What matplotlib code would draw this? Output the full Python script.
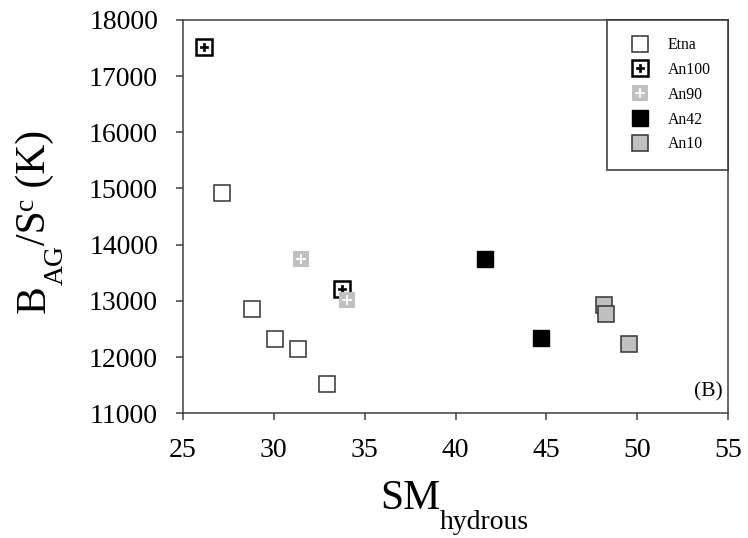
import matplotlib
matplotlib.use("Agg")
import matplotlib.pyplot as plt

plt.rcParams['font.family'] = ['Liberation Serif', 'DejaVu Serif']

# data
etna_x = [27.15, 28.81, 30.06, 31.33, 32.94]
etna_y = [14920, 12850, 12325, 12140, 11517]
an100_x = [26.14, 33.73]
an100_y = [17512, 13205]
an90_x = [31.51, 34.04]
an90_y = [13740, 13014]
an42_x = [41.60, 44.69]
an42_y = [13745, 12337]
an10_x = [48.17, 48.26, 49.56]
an10_y = [12930, 12770, 12230]

W, H = 748, 538
fig = plt.figure(figsize=(W / 100, H / 100), dpi=100)
ax = fig.add_axes([0.2447, 0.232, 0.7286, 0.731])

ms = 11.5
ax.plot(etna_x, etna_y, 's', ms=ms, mfc='white', mec='#333333', mew=1.1, label='Etna')
an100_box, = ax.plot(an100_x, an100_y, 's', ms=ms, mfc='white', mec='black', mew=1.8)
an100_plus, = ax.plot(an100_x, an100_y, 'P', ms=6, mfc='black', mec='black', mew=0.5)
an90_box, = ax.plot(an90_x, an90_y, 's', ms=ms, mfc='#c0c0c0', mec='#c0c0c0', mew=0)
an90_plus, = ax.plot(an90_x, an90_y, '+', ms=7, mec='white', mew=1.3)
ax.plot(an42_x, an42_y, 's', ms=ms, mfc='black', mec='black', mew=1, label='An42')
ax.plot(an10_x, an10_y, 's', ms=ms, mfc='#c0c0c0', mec='#333333', mew=1.1, label='An10')

h, l = ax.get_legend_handles_labels()
handles = [h[0], (an100_box, an100_plus), (an90_box, an90_plus), h[1], h[2]]
labels = ['Etna', 'An100', 'An90', 'An42', 'An10']
leg = ax.legend(handles, labels, loc='upper right', bbox_to_anchor=(1.0, 1.0),
                fontsize=11.3, frameon=True, fancybox=False, edgecolor='#333333',
                borderpad=1.1, labelspacing=0.56, handletextpad=0.75,
                handlelength=2.0, borderaxespad=0)
leg.get_frame().set_linewidth(1.4)

ax.set_xlim(25, 55)
ax.set_ylim(11000, 18000)
ax.set_xticks(range(25, 56, 5))
ax.set_yticks(range(11000, 18001, 1000))
for s in ax.spines.values():
    s.set_linewidth(1.1)
    s.set_color('#404040')
ax.tick_params(direction='out', length=5, width=1.1, color='#404040', labelsize=20, pad=13)
ax.text(0.991, 0.043, '(B)', transform=ax.transAxes, ha='right', va='baseline', fontsize=15.5)

# axis titles built piece by piece so sub/superscripts sit like the original
renderer = fig.canvas.get_renderer()


def write_chain(pieces, px, py, vertical=False):
    # pieces: (text, fontsize, shift in px below the main baseline)
    pos = px if not vertical else py
    for txt, size, shift in pieces:
        if vertical:
            t = fig.text((px + shift) / W, 1 - pos / H, txt, fontsize=size,
                         rotation=90, rotation_mode='anchor', ha='left', va='baseline')
            pos -= t.get_window_extent(renderer).height
        else:
            t = fig.text(pos / W, 1 - (py + shift) / H, txt, fontsize=size,
                         ha='left', va='baseline')
            pos += t.get_window_extent(renderer).width


write_chain([('SM', 30, 0), ('hydrous', 20, 20)], 380, 509)
write_chain([('B', 30, 0), ('AG', 20, 18), ('/S', 30, 0), ('c', 20, -12), (' (K)', 30, 0)],
            45, 313, vertical=True)

fig.savefig('out.png', dpi=100)
